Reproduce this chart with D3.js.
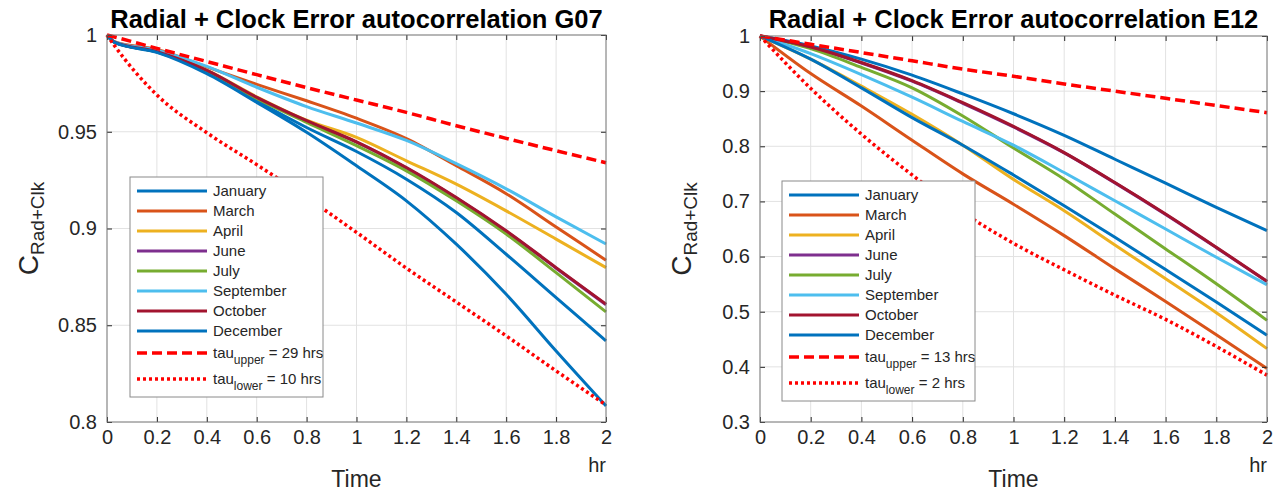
<!DOCTYPE html>
<html>
<head>
<meta charset="utf-8">
<script src="https://cdn.jsdelivr.net/npm/d3@7"></script>
<style>
  body { margin: 0; background: #fff; }
  svg { font-family: "Liberation Sans", Arial, Helvetica, sans-serif; }
</style>
</head>
<body>
<div id="ui"></div>
<script>
// months in the order they were plotted
var months = ["January", "March", "April", "June", "July", "September", "October", "December"];
var monthColors = ["#0072BD", "#D95319", "#EDB120", "#7E2F8E", "#77AC30", "#4DBEEE", "#A2142F", "#0072BD"];

var timeTicks = [0, 0.2, 0.4, 0.6, 0.8, 1, 1.2, 1.4, 1.6, 1.8, 2];

// ---- G07, time in hr
var g07Time      = [0, 0.03, 0.2, 0.4, 0.6, 0.8, 1.0, 1.2, 1.4, 1.6, 1.8, 2.0];
var g07January   = [1, 0.9963, 0.9912, 0.9810, 0.9660, 0.9522, 0.9398, 0.9255, 0.9083, 0.8867, 0.8643, 0.8419];
var g07March     = [1, 0.9966, 0.9925, 0.9835, 0.9745, 0.9660, 0.9570, 0.9465, 0.9325, 0.9180, 0.9008, 0.8836];
var g07April     = [1, 0.9963, 0.9915, 0.9819, 0.9681, 0.9560, 0.9471, 0.9350, 0.9229, 0.9091, 0.8945, 0.8798];
var g07June      = [1, 0.9963, 0.9914, 0.9816, 0.9677, 0.9555, 0.9446, 0.9312, 0.9157, 0.8985, 0.8795, 0.8606];
var g07July      = [1, 0.9963, 0.9913, 0.9815, 0.9672, 0.9548, 0.9428, 0.9298, 0.9143, 0.8971, 0.8772, 0.8569];
var g07September = [1, 0.9965, 0.9922, 0.9838, 0.9730, 0.9630, 0.9545, 0.9455, 0.9335, 0.9205, 0.9060, 0.8920];
var g07October   = [1, 0.9963, 0.9914, 0.9817, 0.9678, 0.9557, 0.9448, 0.9315, 0.9160, 0.8988, 0.8798, 0.8609];
var g07December  = [1, 0.9962, 0.9910, 0.9800, 0.9652, 0.9497, 0.9324, 0.9143, 0.8919, 0.8660, 0.8367, 0.8083];
var g07TauUpper  = [1, 0.9990, 0.9931, 0.9863, 0.9795, 0.9728, 0.9664, 0.9600, 0.9531, 0.9466, 0.9402, 0.9340];
var g07TauLower  = [1, 0.9945, 0.9690, 0.9495, 0.9330, 0.9160, 0.8980, 0.8795, 0.8620, 0.8445, 0.8264, 0.8088];
var g07YTicks    = [0.8, 0.85, 0.9, 0.95, 1];
var g07Tau       = [29, 10];

// ---- E12 (right panel)
var e12Time      = [0, 0.2, 0.4, 0.6, 0.8, 1.0, 1.2, 1.4, 1.6, 1.8, 2.0];
var e12January   = [1, 0.982, 0.958, 0.929, 0.895, 0.859, 0.8199, 0.7765, 0.7331, 0.6892, 0.6470];
var e12March     = [1, 0.932, 0.873, 0.811, 0.750, 0.695, 0.638, 0.5777, 0.5187, 0.4584, 0.3970];
var e12April     = [1, 0.958, 0.909, 0.858, 0.802, 0.740, 0.6831, 0.6211, 0.5596, 0.4982, 0.4331];
var e12June      = [1, 0.980, 0.951, 0.918, 0.878, 0.835, 0.7880, 0.7336, 0.6764, 0.6162, 0.5547];
var e12July      = [1, 0.977, 0.943, 0.906, 0.855, 0.797, 0.7404, 0.6771, 0.6139, 0.5506, 0.4843];
var e12September = [1, 0.968, 0.930, 0.889, 0.845, 0.802, 0.7524, 0.7012, 0.6500, 0.5988, 0.5488];
var e12October   = [1, 0.980, 0.952, 0.919, 0.879, 0.836, 0.7886, 0.7343, 0.6771, 0.6169, 0.5554];
var e12December  = [1, 0.958, 0.906, 0.852, 0.802, 0.748, 0.6922, 0.6349, 0.5765, 0.5175, 0.4572];
var e12TauUpper  = [1, 0.985, 0.970, 0.955, 0.940, 0.927, 0.913, 0.900, 0.887, 0.874, 0.861];
var e12TauLower  = [1, 0.905, 0.822, 0.748, 0.680, 0.624, 0.576, 0.530, 0.486, 0.437, 0.385];
var e12YTicks    = [0.3, 0.4, 0.5, 0.6, 0.7, 0.8, 0.9, 1];
var e12Tau       = [13, 2];

var svg = d3.select("#ui").append("svg")
            .attr("width", 1280)
            .attr("height", 492);

var fmt = d3.format("~g");
var tickColor = "#262626";

function panel(p) {
    var x = d3.scaleLinear().domain([0, 2]).range([p.left, p.right]);
    var y = d3.scaleLinear().domain([p.yTicks[0], 1]).range([p.bottom, p.top]);
    var g = svg.append("g");

    // grid
    g.selectAll(".gx").data(timeTicks.slice(1, -1)).enter().append("line")
     .attr("x1", d => x(d)).attr("x2", d => x(d))
     .attr("y1", p.top).attr("y2", p.bottom)
     .style("stroke", "#e2e2e2");
    g.selectAll(".gy").data(p.yTicks.slice(1, -1)).enter().append("line")
     .attr("y1", d => y(d)).attr("y2", d => y(d))
     .attr("x1", p.left).attr("x2", p.right)
     .style("stroke", "#e2e2e2");

    var series = p.values.map((v, i) => ({ name: months[i], values: v, color: monthColors[i] }));
    series.push({ name: "upper", values: p.tauUpper, color: "#FF0000", dash: "10,5" });
    series.push({ name: "lower", values: p.tauLower, color: "#FF0000", dash: "3,3" });

    var line = d3.line()
                 .x((d, i) => x(p.time[i]))
                 .y(d => y(d))
                 .curve(d3.curveMonotoneX);

    g.selectAll(".series").data(series).enter().append("path")
     .attr("d", d => line(d.values))
     .style("fill", "none")
     .style("stroke", d => d.color)
     .style("stroke-width", d => d.dash ? 3.5 : 3)
     .style("stroke-dasharray", d => d.dash || null);

    // axes, ticks pointing in on all four sides
    var axes = [
        [d3.axisBottom(x).tickValues(timeTicks).tickFormat(fmt), "translate(0," + p.bottom + ")"],
        [d3.axisTop(x).tickValues(timeTicks).tickFormat(""), "translate(0," + p.top + ")"],
        [d3.axisLeft(y).tickValues(p.yTicks).tickFormat(fmt), "translate(" + p.left + ",0)"],
        [d3.axisRight(y).tickValues(p.yTicks).tickFormat(""), "translate(" + p.right + ",0)"]
    ];
    axes.forEach(function (a, k) {
        var ax = g.append("g").attr("transform", a[1])
                  .call(a[0].tickSize(-5).tickPadding(k == 0 ? 8 : 10));
        ax.select(".domain").remove();
        ax.selectAll("line").style("stroke", tickColor);
        ax.selectAll("text").style("font-size", "20px").style("fill", tickColor);
        ax.attr("font-family", null);
    });

    g.append("rect")
     .attr("x", p.left).attr("y", p.top)
     .attr("width", p.right - p.left).attr("height", p.bottom - p.top)
     .style("fill", "none").style("stroke", "#6e6e6e");

    // titles
    g.append("text")
     .attr("x", (p.left + p.right) / 2).attr("y", 28)
     .attr("text-anchor", "middle")
     .style("font-weight", "bold").style("font-size", "25.5px")
     .text(p.title);

    g.append("text")
     .attr("x", (p.left + p.right) / 2).attr("y", 487)
     .attr("text-anchor", "middle")
     .style("font-size", "23px").style("fill", tickColor)
     .text("Time");

    g.append("text")
     .attr("x", p.right).attr("y", 472)
     .attr("text-anchor", "end")
     .style("font-size", "20px").style("fill", tickColor)
     .text("hr");

    var yl = g.append("text")
              .attr("text-anchor", "middle")
              .attr("transform", "translate(" + p.ylabX + "," + ((p.top + p.bottom) / 2) + ")rotate(-90)")
              .style("fill", tickColor);
    yl.append("tspan").style("font-size", "28px").text("C");
    yl.append("tspan").style("font-size", "19px").attr("dy", 6).text("Rad+Clk");

    // legend
    var lg = g.append("g").attr("transform", "translate(" + p.legX + "," + p.legY + ")");
    lg.append("rect").attr("width", 193).attr("height", 220)
      .style("fill", "#fff").style("stroke", "#8a8a8a");

    var rowY = i => i < 8 ? 14 + 20 * i : 176 + 26 * (i - 8);
    var rows = lg.selectAll(".row").data(series).enter().append("g")
                 .attr("transform", (d, i) => "translate(0," + rowY(i) + ")");
    rows.append("line")
        .attr("x1", 7).attr("x2", 77)
        .style("stroke", d => d.color)
        .style("stroke-width", d => d.dash ? 3.5 : 3)
        .style("stroke-dasharray", d => d.dash || null);
    var lt = rows.append("text").attr("x", 83).attr("y", 5)
                 .style("font-size", "15px").style("fill", tickColor);
    lt.filter(d => !d.dash).text(d => d.name);
    lt.filter(d => d.dash).each(function (d, i) {
        var t = d3.select(this);
        t.append("tspan").text("tau");
        t.append("tspan").attr("dy", 6).style("font-size", "12px").text(d.name);
        t.append("tspan").attr("dy", -6).text(" = " + p.tau[i] + " hrs");
    });
}

panel({
    title: "Radial + Clock Error autocorrelation G07",
    left: 107, right: 606, top: 35, bottom: 422,
    time: g07Time, yTicks: g07YTicks, tau: g07Tau,
    values: [g07January, g07March, g07April, g07June, g07July, g07September, g07October, g07December],
    tauUpper: g07TauUpper, tauLower: g07TauLower,
    ylabX: 38, legX: 130, legY: 177
});

panel({
    title: "Radial + Clock Error autocorrelation E12",
    left: 760, right: 1267, top: 36, bottom: 422,
    time: e12Time, yTicks: e12YTicks, tau: e12Tau,
    values: [e12January, e12March, e12April, e12June, e12July, e12September, e12October, e12December],
    tauUpper: e12TauUpper, tauLower: e12TauLower,
    ylabX: 691, legX: 782, legY: 181
});
</script>
</body>
</html>
